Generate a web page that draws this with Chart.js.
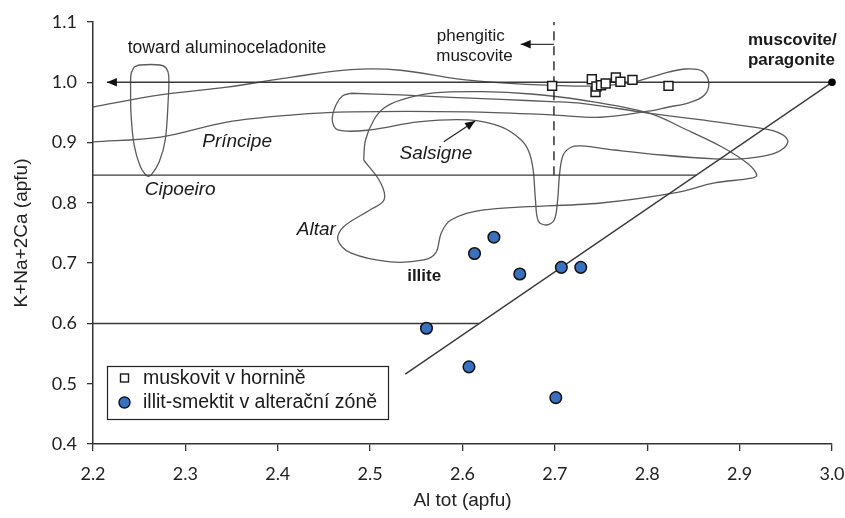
<!DOCTYPE html>
<html><head><meta charset="utf-8">
<script src="https://cdn.jsdelivr.net/npm/chart.js@4.4.1/dist/chart.umd.min.js"></script>
<style>html,body{margin:0;padding:0;background:#fff;}</style>
</head><body>
<canvas id="c" width="845" height="518"></canvas>
<script>
// ---- data ----
const muskovitX = [2.697, 2.740, 2.744, 2.745, 2.750, 2.755, 2.766, 2.771, 2.784, 2.823];
const muskovitY = [0.994, 1.005, 0.984, 0.993, 0.995, 0.998, 1.008, 1.001, 1.004, 0.994];
const illitX = [2.561, 2.607, 2.613, 2.634, 2.662, 2.707, 2.728, 2.701];
const illitY = [0.592, 0.528, 0.716, 0.743, 0.682, 0.693, 0.693, 0.477];
const xTickValues = [2.2, 2.3, 2.4, 2.5, 2.6, 2.7, 2.8, 2.9, 3.0];
const yTickValues = [0.4, 0.5, 0.6, 0.7, 0.8, 0.9, 1.0, 1.1];

// field outlines
const cipoeiroX = [2.2445,2.2510,2.2727,2.2792,2.2820,2.2814,2.2782,2.2716,2.2630,2.2586,2.2510,2.2445,2.2412,2.2407,2.2412,2.2445];
const cipoeiroY = [1.0254,1.0287,1.0287,1.0237,1.0104,0.9706,0.9043,0.8678,0.8463,0.8446,0.8612,0.8960,0.9458,0.9905,1.0138,1.0254];
const principeX = [2.200,2.273,2.345,2.417,2.479,2.533,2.594,2.642,2.696,2.750,2.786,2.816,2.8405,2.859,2.8665,2.862,2.845,2.823,2.801,2.750,2.696,2.606,2.479,2.417,2.345,2.273,2.200];
const principeY = [0.959,0.979,0.992,1.009,1.021,1.020,1.0055,0.999,0.995,0.994,1.0005,1.014,1.022,1.019,1.0005,0.979,0.966,0.959,0.952,0.942,0.946,0.951,0.951,0.946,0.934,0.909,0.901];
const salsigneX = [2.479,2.533,2.5875,2.642,2.696,2.729,2.801,2.859,2.913,2.940,2.952,2.948,2.932,2.902,2.873,2.8155,2.7645,2.7286,2.718,2.709,2.705,2.703,2.6993,2.6906,2.682,2.679,2.6765,2.672,2.6635,2.642,2.606,2.552,2.4997,2.465,2.459,2.463,2.470,2.479];
const salsigneY = [0.9818,0.979,0.975,0.9715,0.968,0.965,0.949,0.9375,0.926,0.9176,0.9043,0.891,0.8794,0.8728,0.8728,0.8794,0.8877,0.8944,0.8927,0.8794,0.8463,0.8048,0.7716,0.7633,0.770,0.8048,0.8546,0.8844,0.9043,0.9259,0.9375,0.9342,0.9209,0.9209,0.9375,0.9624,0.9773,0.9818];
const altarX = [2.493,2.495,2.504,2.515,2.533,2.569,2.623,2.674,2.729,2.801,2.843,2.881,2.908,2.9186,2.913,2.873,2.8296,2.750,2.623,2.5875,2.577,2.571,2.558,2.522,2.479,2.465,2.471,2.4997,2.515,2.5115,2.493];
const altarY = [0.8711,0.9043,0.9375,0.9574,0.9706,0.9823,0.9844,0.9806,0.9706,0.9491,0.9209,0.8927,0.866,0.8463,0.841,0.833,0.8164,0.7998,0.7882,0.7716,0.7501,0.7169,0.7053,0.702,0.7169,0.7385,0.760,0.7882,0.8048,0.833,0.8711];

// straight reference lines
const alkaliLineX = [3.0, 2.215];   const alkaliLineY = [1.0, 1.0];
const diagonalX = [2.538, 3.0];     const diagonalY = [0.516, 1.0];
const line085X = [2.2, 2.853];      const line085Y = [0.846, 0.846];
const line060X = [2.2, 2.618];      const line060Y = [0.6, 0.6];
const phengiteX = [2.699, 2.699];   const phengiteY = [0.846, 1.1];
const phengArrowX = [2.699, 2.663]; const phengArrowY = [1.063, 1.063];
const salsArrowX = [2.5797, 2.6137];const salsArrowY = [0.9015, 0.9358];
const endMemberX = [3.0];           const endMemberY = [1.0];

// text annotations (data coordinates)
const annotations = [
  {text:'toward aluminoceladonite', x:2.345, y:1.0564, style:'', size:17.5},
  {text:'phengitic', x:2.609, y:1.077, style:'', size:17},
  {text:'muscovite', x:2.613, y:1.0425, style:'', size:17},
  {text:'muscovite/', x:2.909, y:1.070, style:'bold', size:17, align:'left'},
  {text:'paragonite', x:2.909, y:1.036, style:'bold', size:17, align:'left'},
  {text:'Príncipe', x:2.356, y:0.9015, style:'italic', size:19},
  {text:'Cipoeiro', x:2.2944, y:0.8214, style:'italic', size:19},
  {text:'Salsigne', x:2.5712, y:0.8823, style:'italic', size:19},
  {text:'Altar', x:2.4417, y:0.755, style:'italic', size:19},
  {text:'illite', x:2.5585, y:0.6776, style:'bold', size:17}
];
const legendLabels = ['muskovit v hornině', 'illit-smektit v alterační zóně'];

const zip = (xs, ys) => xs.map((x, i) => ({x, y: ys[i]}));
const CURVE = '#5a5a5a', STRAIGHT = '#3a3a3a', BLUE = '#3a70c0';
const curve = (xs, ys) => ({data: zip(xs, ys), showLine: true, pointRadius: 0, borderColor: CURVE, borderWidth: 1.3, tension: 0.35, fill: false});
const straight = (xs, ys, extra) => Object.assign({data: zip(xs, ys), showLine: true, pointRadius: 0, borderColor: STRAIGHT, borderWidth: 1.4, tension: 0, fill: false}, extra || {});

const datasets = [
  {label: legendLabels[0], data: zip(muskovitX, muskovitY), pointStyle: 'rect', pointRadius: 6.3, backgroundColor: '#ffffff', borderColor: '#1a1a1a', borderWidth: 1.5, showLine: false, clip: false},
  {label: legendLabels[1], data: zip(illitX, illitY), pointStyle: 'circle', pointRadius: 5.8, backgroundColor: BLUE, borderColor: '#111', borderWidth: 1.5, showLine: false, clip: false},
  {label: 'end member', data: zip(endMemberX, endMemberY), pointStyle: 'circle', pointRadius: 3.8, backgroundColor: '#000', borderColor: '#000', borderWidth: 0, showLine: false, clip: false},
  straight(alkaliLineX, alkaliLineY, {arrow: true}),
  straight(diagonalX, diagonalY),
  straight(line085X, line085Y),
  straight(line060X, line060Y),
  straight(phengiteX, phengiteY, {borderDash: [9, 6], borderColor: '#222'}),
  straight(phengArrowX, phengArrowY, {arrow: true, borderWidth: 1.2}),
  straight(salsArrowX, salsArrowY, {arrow: true, borderWidth: 1.2, borderColor: '#222'}),
  curve(cipoeiroX, cipoeiroY),
  curve(principeX, principeY),
  curve(salsigneX, salsigneY),
  curve(altarX, altarY)
];

const arrowPlugin = {
  id: 'arrows',
  afterDatasetsDraw(chart) {
    const ctx = chart.ctx;
    chart.data.datasets.forEach((ds, i) => {
      if (!ds.arrow) return;
      const pts = chart.getDatasetMeta(i).data;
      const p1 = pts[pts.length - 1], p0 = pts[pts.length - 2];
      const a = Math.atan2(p1.y - p0.y, p1.x - p0.x);
      const L = 10, W = 4.2;
      ctx.save();
      ctx.fillStyle = '#111';
      ctx.beginPath();
      ctx.moveTo(p1.x, p1.y);
      ctx.lineTo(p1.x - L * Math.cos(a) + W * Math.sin(a), p1.y - L * Math.sin(a) - W * Math.cos(a));
      ctx.lineTo(p1.x - L * Math.cos(a) - W * Math.sin(a), p1.y - L * Math.sin(a) + W * Math.cos(a));
      ctx.closePath();
      ctx.fill();
      ctx.restore();
    });
  }
};

const textPlugin = {
  id: 'texts',
  afterDraw(chart) {
    const ctx = chart.ctx, xs = chart.scales.x, ys = chart.scales.y;
    ctx.save();
    ctx.fillStyle = '#1a1a1a';
    ctx.textBaseline = 'middle';
    annotations.forEach(a => {
      ctx.font = (a.style ? a.style + ' ' : '') + a.size + 'px "Liberation Sans", Arial, sans-serif';
      ctx.textAlign = a.align || 'center';
      ctx.fillText(a.text, xs.getPixelForValue(a.x), ys.getPixelForValue(a.y));
    });
    // legend box
    const ca = chart.chartArea;
    const bx = ca.left + 14, by = ca.bottom - 78, bw = 281, bh = 53;
    ctx.fillStyle = '#fff';
    ctx.fillRect(bx, by, bw, bh);
    ctx.strokeStyle = '#222'; ctx.lineWidth = 1.2;
    ctx.strokeRect(bx + 0.5, by + 0.5, bw, bh);
    const d0 = chart.data.datasets[0], d1 = chart.data.datasets[1];
    ctx.fillStyle = d0.backgroundColor; ctx.strokeStyle = d0.borderColor; ctx.lineWidth = 1.4;
    ctx.fillRect(bx + 13.5, by + 8, 8, 8); ctx.strokeRect(bx + 13.5, by + 8, 8, 8);
    ctx.beginPath(); ctx.arc(bx + 17.5, by + 36.5, 5.5, 0, Math.PI * 2);
    ctx.fillStyle = d1.backgroundColor; ctx.fill(); ctx.strokeStyle = d1.borderColor; ctx.stroke();
    ctx.fillStyle = '#1a1a1a';
    ctx.font = '19.5px "Liberation Sans", Arial, sans-serif';
    ctx.textAlign = 'left';
    ctx.fillText(d0.label, bx + 36, by + 13);
    ctx.fillText(d1.label, bx + 36, by + 37);
    ctx.restore();
  }
};

new Chart(document.getElementById('c'), {
  type: 'scatter',
  data: {datasets},
  options: {
    responsive: false,
    animation: false,
    events: [],
    layout: {padding: {left: 0, right: 13, top: 22, bottom: 0}},
    plugins: {legend: {display: false}, tooltip: {enabled: false}},
    scales: {
      x: {
        type: 'linear', min: 2.2, max: 3.0,
        afterBuildTicks: s => { s.ticks = xTickValues.map(v => ({value: v})); },
        afterFit: s => { s.height = 74; s.paddingRight = 0; s.paddingLeft = 0; },
        ticks: {callback: v => v.toFixed(1), font: {family: 'Lato', size: 18}, color: '#222', padding: 12, maxRotation: 0},
        grid: {drawOnChartArea: false, drawTicks: true, tickLength: 7, color: '#333', lineWidth: 1.3},
        border: {display: true, color: '#333', width: 1.5},
        title: {display: true, text: 'Al tot (apfu)', font: {family: 'Liberation Sans', size: 19}, color: '#222', padding: {top: 0, bottom: 6}}
      },
      y: {
        type: 'linear', min: 0.4, max: 1.1,
        afterBuildTicks: s => { s.ticks = yTickValues.map(v => ({value: v})); },
        afterFit: s => { s.width = 93; },
        ticks: {callback: v => v.toFixed(1), font: {family: 'Lato', size: 18}, color: '#222', padding: 10},
        grid: {drawOnChartArea: false, drawTicks: true, tickLength: 6, color: '#333', lineWidth: 1.3},
        border: {display: true, color: '#333', width: 1.5},
        title: {display: true, text: 'K+Na+2Ca (apfu)', font: {family: 'Liberation Sans', size: 19}, color: '#222', padding: {top: 10, bottom: 0}}
      }
    }
  },
  plugins: [arrowPlugin, textPlugin]
});
</script>
</body></html>
